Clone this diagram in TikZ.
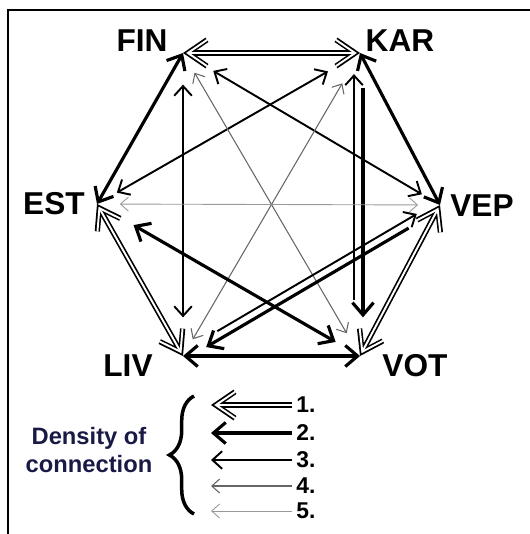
\documentclass[tikz,border=0pt]{standalone}
\usepackage{fontspec}
\setmainfont{Liberation Sans}
\usetikzlibrary{arrows.meta,decorations.pathreplacing,calc,positioning}
\definecolor{legendblue}{RGB}{25,25,70}
\tikzset{
  d1/.style={line width=3pt,>={Straight Barb[length=11pt,width=15pt]},
    postaction={draw=white,line width=1.1pt,shorten >=1.8pt,shorten <=1.8pt}},
  d2/.style={line width=1.8pt,>={Straight Barb[length=7pt,width=12pt]}},
  d3/.style={line width=1.1pt,>={Straight Barb[length=5.5pt,width=10pt]}},
  d4/.style={line width=0.6pt,draw=black!60,>={Straight Barb[length=4.5pt,width=8pt]}},
  d5/.style={line width=0.5pt,draw=black!40,>={Straight Barb[length=4.5pt,width=8pt]}},
  lang/.style={font=\fontsize{18}{20}\selectfont\bfseries},
}
\begin{document}
\begin{tikzpicture}[x=0.02cm,y=-0.02cm]
\useasboundingbox (0,0) rectangle (530,534);
\draw[line width=0.6pt] (8,534) -- (8,10) -- (530,10);
\foreach \name/\x/\y in {FIN/183/53,KAR/360/53,VEP/440/205,VOT/360/356,LIV/183/356,EST/97/204}
  \coordinate (\name) at (\x,\y);
\node[lang] (FINl) at (142,41) {FIN};
\node[lang] (KARl) at (400,41) {KAR};
\node[lang] (ESTl) at (54,204) {EST};
\node[lang] (VEPl) at (482,206) {VEP};
\node[lang] (LIVl) at (128,366) {LIV};
\node[lang] (VOTl) at (415,366) {VOT};
% sides
\draw[d1,<->] (FIN) -- (KAR);
\draw[d2,<->] (KAR) -- (VEP);
\draw[d1,<->] (VEP) -- (VOT);
\draw[d2,<->] (VOT) -- (LIV);
\draw[d1,<->] (LIV) -- (EST);
\draw[d2,<->] (EST) -- (FIN);
% inside
\draw[d3,<->,shorten <=18pt,shorten >=22pt] (FIN) -- (LIV);
\draw[d2,->,shorten <=20pt,shorten >=22pt] ($(KAR)+(3,0)$) -- ($(VOT)+(3,0)$);
\draw[d3,->,shorten <=32pt,shorten >=12pt] ($(VOT)+(-6,0)$) -- ($(KAR)+(-6,0)$);
\draw[d3,<->,shorten <=20pt,shorten >=12pt] (FIN) -- (VEP);
\draw[d3,<->,shorten <=21pt,shorten >=13pt] (KAR) -- (EST);
\draw[d4,<->,shorten <=13pt,shorten >=15pt] (FIN) -- (VOT);
\draw[d4,<->,shorten <=20pt,shorten >=11pt] (KAR) -- (LIV);
\draw[d5,<->,shorten <=13pt,shorten >=12.5pt] (EST) -- (VEP);
\draw[d2,<->,shorten <=24pt,shorten >=16pt] (EST) -- (VOT);
\draw[d3,->,shorten <=24pt,shorten >=14pt] ($(LIV)+(-2,-3.5)$) -- ($(VEP)+(-2,-3.5)$);
\draw[d2,->,shorten <=22pt,shorten >=14pt] ($(VEP)+(2,3.5)$) -- ($(LIV)+(2,3.5)$);
% legend
\foreach \y [count=\n] in {405,433,460,486,511} {
  \node[font=\fontsize{13}{15}\selectfont\bfseries,anchor=west,inner sep=0pt] (num\n) at (296,\y) {\n.};
  \coordinate (tip\n) at (211,\y);
  \draw[d\n,->,shorten <=2pt] (num\n.west) -- (tip\n);
}
\node[font=\fontsize{13.5}{16}\selectfont\bfseries,text=legendblue,align=center] (dens) at (89,450) {Density of\\connection};
\draw[decorate,decoration={brace,amplitude=14pt},line width=2pt] (194,514) -- (194,396);
\end{tikzpicture}
\end{document}
